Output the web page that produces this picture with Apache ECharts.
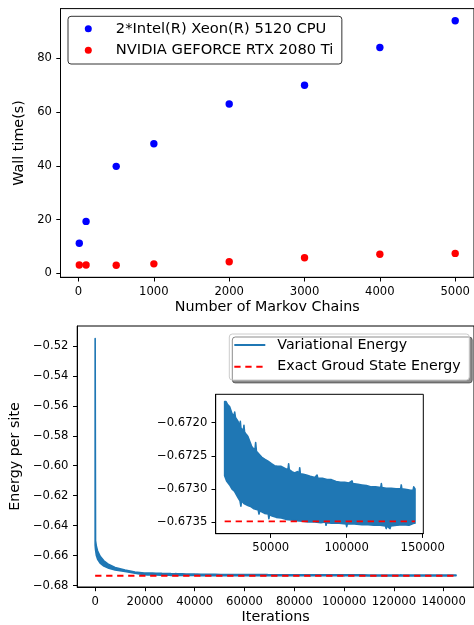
<!DOCTYPE html>
<html>
<head>
<meta charset="utf-8">
<script src="https://cdn.jsdelivr.net/npm/echarts@6/dist/echarts.min.js"></script>
<style>
html,body{margin:0;padding:0;background:#fff;}
#chart{width:474px;height:625px;}
</style>
</head>
<body>
<div id="chart"></div>
<script>
// ---------- Top panel data ----------
const markovChains = [10, 100, 500, 1000, 2000, 3000, 4000, 5000];
const cpuWallTime  = [11.2, 19.3, 39.8, 48.2, 63.0, 70.0, 84.0, 94.0];
const gpuWallTime  = [3.1, 3.1, 3.0, 3.5, 4.3, 5.8, 7.1, 7.4];
const chainTicks   = [0, 1000, 2000, 3000, 4000, 5000];
const wallTicks    = [0, 20, 40, 60, 80];

// ---------- Bottom panel data (noisy band read as upper / lower envelope) ----------
const upperIterations = [0, 150, 500, 1000, 2000, 3500, 5500, 8000, 12000, 16000,
  19700, 20500, 21500, 23000, 24500, 25800, 26300, 26800, 28500, 29600,
  30000, 30400, 32000, 32400, 32800, 34000, 35000, 36500, 37500, 39600,
  40100, 40600, 42500, 44000, 46000, 48200, 50500, 52500, 54500, 56900,
  58500, 60000, 61400, 61800, 62200, 64000, 65800, 67500, 68700, 69100,
  69500, 71500, 73400, 76000, 79000, 80500, 81000, 84000, 87000, 89900,
  93000, 96000, 98700, 101500, 103500, 104000, 107400, 110000, 113000, 116200,
  119000, 122400, 122800, 123200, 126000, 129300, 132500, 135500, 135900, 136300,
  139500, 142000, 143700, 144100, 144940];
const energyUpper = [-0.5151, -0.6500, -0.6540, -0.6570, -0.6605, -0.6635, -0.6660, -0.6680, -0.6697, -0.6710,
  -0.67168, -0.67168, -0.67172, -0.67176, -0.67186, -0.67190, -0.67184, -0.67192, -0.67198, -0.67206,
  -0.67198, -0.67208, -0.67212, -0.67204, -0.67214, -0.67218, -0.67221, -0.67230, -0.67236, -0.67242,
  -0.67230, -0.67243, -0.67248, -0.67252, -0.67255, -0.67258, -0.67262, -0.67265, -0.67266, -0.67266,
  -0.67268, -0.67270, -0.67270, -0.67262, -0.67271, -0.67274, -0.67276, -0.67274, -0.67276, -0.67268,
  -0.67277, -0.67278, -0.67279, -0.67281, -0.67283, -0.67279, -0.67284, -0.67284, -0.67286, -0.67286,
  -0.67289, -0.67290, -0.67290, -0.67291, -0.67288, -0.67292, -0.67293, -0.67294, -0.67295, -0.67297,
  -0.67297, -0.67298, -0.67292, -0.67298, -0.67299, -0.67299, -0.67300, -0.67300, -0.67294, -0.67300,
  -0.67301, -0.67302, -0.67302, -0.67297, -0.67300];
const lowerIterations = [0, 150, 500, 1000, 2000, 3500, 5500, 8000, 12000, 16000,
  19700, 21000, 23000, 24500, 26300, 28500, 29800, 30400, 30800, 32400,
  35000, 37200, 39000, 41800, 42300, 42800, 46000, 48400, 48800, 49200,
  51000, 53700, 57000, 60000, 63500, 67000, 71000, 75000, 79000, 83000,
  86000, 86400, 86800, 90000, 95000, 99600, 100000, 100400, 105000, 110000,
  114000, 118000, 122000, 125500, 126000, 126500, 128500, 129000, 133000, 137000,
  141000, 144100, 144940];
const energyLower = [-0.6530, -0.6560, -0.6600, -0.6625, -0.6650, -0.6670, -0.6685, -0.6697, -0.6707, -0.6718,
  -0.67280, -0.67288, -0.67294, -0.67300, -0.67304, -0.67313, -0.67318, -0.67326, -0.67318, -0.67322,
  -0.67325, -0.67327, -0.67330, -0.67332, -0.67338, -0.67333, -0.67337, -0.67338, -0.67345, -0.67339,
  -0.67341, -0.67343, -0.67344, -0.67346, -0.67347, -0.67348, -0.67349, -0.67350, -0.67350, -0.67351,
  -0.67350, -0.67355, -0.67351, -0.67352, -0.67352, -0.67353, -0.67357, -0.67353, -0.67353, -0.67354,
  -0.67354, -0.67355, -0.67355, -0.67356, -0.67360, -0.67356, -0.67360, -0.67356, -0.67355, -0.67354,
  -0.67355, -0.67352, -0.67352];
const exactEnergy = -0.67349;
const insetStartIteration = 19700;
const iterationTicks = [0, 20000, 40000, 60000, 80000, 100000, 120000, 140000];
const energyTicks = [-0.68, -0.66, -0.64, -0.62, -0.60, -0.58, -0.56, -0.54, -0.52];
const insetIterationTicks = [50000, 100000, 150000];
const insetEnergyTicks = [-0.6735, -0.6730, -0.6725, -0.6720];

// ---------- Build chart ----------
const FONT = 'DejaVu Sans';
const BLUE = '#1f77b4';
const minus = s => s.replace('-', '\u2212');

function pick(xs, ys, fromX) {
  const idx = xs.map((x, i) => i).filter(i => xs[i] >= fromX);
  return [idx.map(i => xs[i]), idx.map(i => ys[i])];
}
const [insUX, insUY] = pick(upperIterations, energyUpper, insetStartIteration);
const [insLX, insLY] = pick(lowerIterations, energyLower, insetStartIteration);
const lastIteration = Math.max(upperIterations[upperIterations.length - 1], lowerIterations[lowerIterations.length - 1]);

function bandRenderer(ux, uy, lx, ly) {
  return function (params, api) {
    const pts = [];
    for (let i = 0; i < ux.length; i++) pts.push(api.coord([ux[i], uy[i]]));
    for (let i = lx.length - 1; i >= 0; i--) pts.push(api.coord([lx[i], ly[i]]));
    return {
      type: 'polygon',
      shape: { points: pts },
      style: { fill: BLUE, stroke: BLUE, lineWidth: 1.6, lineJoin: 'round' }
    };
  };
}

function makeAxis(o) {
  return {
    type: 'value',
    gridIndex: o.grid,
    min: o.min, max: o.max,
    position: o.position,
    name: o.name || '',
    nameLocation: 'middle',
    nameGap: o.nameGap || 0,
    nameTextStyle: { fontFamily: FONT, fontSize: 14.3, color: '#000' },
    axisLine: { show: true, onZero: false, lineStyle: { color: '#000', width: 1 } },
    splitLine: { show: false },
    axisTick: { show: true, inside: false, length: 4.2, lineStyle: { color: '#000', width: 1 }, customValues: o.ticks },
    axisLabel: { show: true, customValues: o.ticks, margin: o.margin, fontFamily: FONT, fontSize: 11.6, color: '#000',
      formatter: o.fmt }
  };
}

const chart = echarts.init(document.getElementById('chart'), null, { renderer: 'canvas' });
const option = {
  animation: false,
  backgroundColor: '#fff',
  textStyle: { fontFamily: FONT },
  grid: [
    { left: 60.5, top: 8.6, width: 413.6, height: 268.7, show: true, borderColor: '#000', borderWidth: 1, backgroundColor: 'transparent' },
    { left: 72.7, top: 326, width: 404.9, height: 261.5, show: true, borderColor: '#000', borderWidth: 1, backgroundColor: 'transparent' },
    { left: 215.7, top: 394.3, width: 207.6, height: 139.4, show: true, borderColor: '#000', borderWidth: 1, backgroundColor: '#fff' }
  ],
  xAxis: [
    makeAxis({ grid: 0, min: -239.5, max: 5249.5, position: 'bottom', ticks: chainTicks, margin: 8.5,
      name: 'Number of Markov Chains', nameGap: 23, fmt: v => String(v) }),
    makeAxis({ grid: 1, min: -7200, max: 152160, position: 'bottom', ticks: iterationTicks, margin: 8.5,
      name: 'Iterations', nameGap: 23, fmt: v => String(v) }),
    makeAxis({ grid: 2, min: 13816, max: 150400, position: 'bottom', ticks: insetIterationTicks, margin: 8,
      fmt: v => String(v) })
  ],
  yAxis: [
    makeAxis({ grid: 0, min: -1.5, max: 98.5, position: 'left', ticks: wallTicks, margin: 8.5,
      name: 'Wall time(s)', nameGap: 25, fmt: v => String(v) }),
    makeAxis({ grid: 1, min: -0.681, max: -0.506667, position: 'left', ticks: energyTicks, margin: 8.8,
      name: 'Energy per site', nameGap: 50.5, fmt: v => minus(v.toFixed(2)) }),
    makeAxis({ grid: 2, min: -0.673677, max: -0.671571, position: 'left', ticks: insetEnergyTicks, margin: 8.4,
      fmt: v => minus(v.toFixed(4)) })
  ],
  legend: [
    {
      left: 68, top: 16.3, orient: 'vertical',
      padding: [4.4, 8.5, 5.7, 16.8], itemGap: 5.6, itemWidth: 29, itemHeight: 7,
      borderColor: '#333', borderWidth: 1, borderRadius: 3, backgroundColor: '#fff',
      textStyle: { fontFamily: FONT, fontSize: 14.7, color: '#000', padding: [0, 0, 0, 8], lineHeight: 16 },
      data: [{ name: '2*Intel(R) Xeon(R) 5120 CPU', icon: 'circle' }, { name: 'NVIDIA GEFORCE RTX 2080 Ti', icon: 'circle' }],
      selectedMode: false
    },
    {
      left: 229.3, top: 334, orient: 'vertical',
      padding: [3, 8.6, 5.3, 4], itemGap: 5.7, itemWidth: 31, itemHeight: 14,
      borderColor: '#ccc', borderWidth: 1, borderRadius: 3, backgroundColor: '#fff',
      shadowColor: 'rgba(0,0,0,0.45)', shadowBlur: 0, shadowOffsetX: 3, shadowOffsetY: 3,
      itemStyle: { opacity: 0 },
      textStyle: { fontFamily: FONT, fontSize: 14.2, color: '#000', padding: [0, 0, 0, 7], lineHeight: 16 },
      data: ['Variational Energy', 'Exact Groud State Energy'],
      selectedMode: false
    }
  ],
  series: [
    { name: '2*Intel(R) Xeon(R) 5120 CPU', type: 'scatter', xAxisIndex: 0, yAxisIndex: 0,
      symbol: 'circle', symbolSize: 7.4, itemStyle: { color: '#0000ff', opacity: 1 },
      data: markovChains.map((c, i) => [c, cpuWallTime[i]]) },
    { name: 'NVIDIA GEFORCE RTX 2080 Ti', type: 'scatter', xAxisIndex: 0, yAxisIndex: 0,
      symbol: 'circle', symbolSize: 7.4, itemStyle: { color: '#ff0000', opacity: 1 },
      data: markovChains.map((c, i) => [c, gpuWallTime[i]]) },
    { name: 'Variational Energy', type: 'line', xAxisIndex: 1, yAxisIndex: 1, symbol: 'none',
      lineStyle: { color: BLUE, width: 2 }, itemStyle: { color: BLUE }, data: [] },
    { name: 'Variational band', type: 'custom', xAxisIndex: 1, yAxisIndex: 1, z: 2,
      renderItem: bandRenderer(upperIterations, energyUpper, lowerIterations, energyLower),
      data: [[upperIterations[0], energyUpper[0]]] },
    { name: 'Exact Groud State Energy', type: 'line', xAxisIndex: 1, yAxisIndex: 1, symbol: 'none', z: 3,
      lineStyle: { color: '#ff0000', width: 1.8, type: [6.3, 4.7] }, itemStyle: { color: '#ff0000' },
      data: [[upperIterations[0], exactEnergy], [lastIteration, exactEnergy]] },
    { name: 'Variational band inset', type: 'custom', xAxisIndex: 2, yAxisIndex: 2, z: 4,
      renderItem: bandRenderer(insUX, insUY, insLX, insLY),
      data: [[insUX[0], insUY[0]]] },
    { name: 'Exact Groud State Energy', type: 'line', xAxisIndex: 2, yAxisIndex: 2, symbol: 'none', z: 5,
      lineStyle: { color: '#ff0000', width: 1.8, type: [6.3, 4.7] }, itemStyle: { color: '#ff0000' },
      data: [[insUX[0], exactEnergy], [lastIteration, exactEnergy]] }
  ]
};
chart.setOption(option);
</script>
</body>
</html>
